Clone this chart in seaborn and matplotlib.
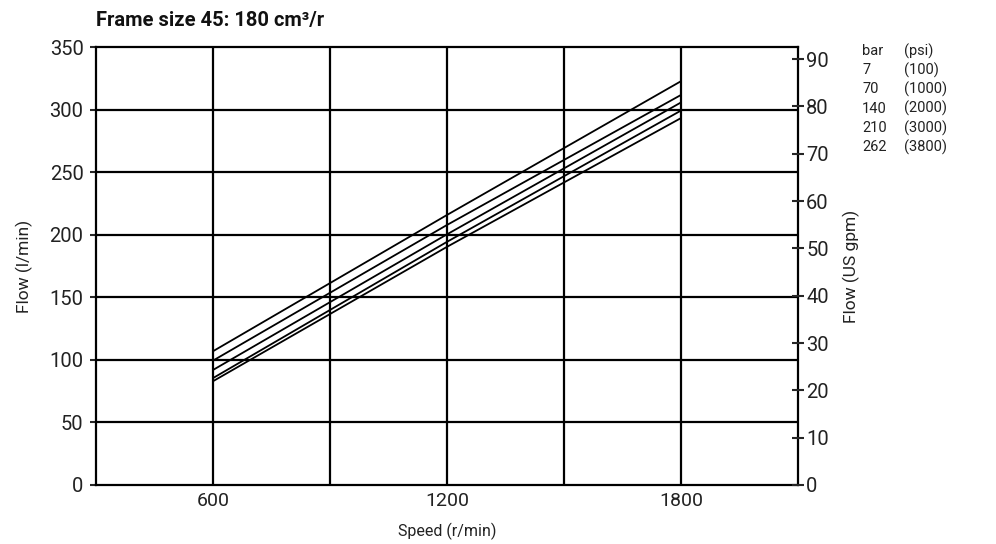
import pandas as pd
import seaborn as sns
import matplotlib.pyplot as plt

# data
speed = [600, 1200, 1800]
pressure_bar = ['7', '70', '140', '210', '262']
pressure_psi = ['(100)', '(1000)', '(2000)', '(3000)', '(3800)']
flow_7 = [107, 216, 323]
flow_70 = [99.5, 208, 312]
flow_140 = [92, 200.5, 306]
flow_210 = [85.5, 194.5, 299.5]
flow_262 = [83, 190.5, 293.5]

rows = []
for bar, flows in zip(pressure_bar, [flow_7, flow_70, flow_140, flow_210, flow_262]):
    for s, f in zip(speed, flows):
        rows.append({'speed': s, 'flow': f, 'bar': bar})
df = pd.DataFrame(rows)

sns.set_theme(style="white")
plt.rcParams['font.family'] = ['Roboto', 'DejaVu Sans']

fig = plt.figure(figsize=(9.96, 5.44), dpi=100)
ax = fig.add_axes([0.0964, 0.1085, 0.7047, 0.8042])

sns.lineplot(data=df, x='speed', y='flow', hue='bar', palette=['black'] * 5,
             linewidth=1.3, legend=False, ax=ax, zorder=3)

ax.set_xlim(300, 2100)
ax.set_ylim(0, 350)

# grid lines
for gx in [600, 900, 1200, 1500, 1800]:
    ax.axvline(gx, color='black', linewidth=1.6, zorder=2)
for gy in [50, 100, 150, 200, 250, 300]:
    ax.axhline(gy, color='black', linewidth=1.6, zorder=2)

ax.set_xticks([600, 1200, 1800])
ax.set_yticks(range(0, 351, 50))
ax.tick_params(axis='x', length=0, labelsize=14, pad=5, labelcolor='#222222')
ax.tick_params(axis='y', direction='out', length=4, width=1.5, labelsize=14.5, pad=5,
               labelcolor='#222222')
ax.set_xlabel('Speed (r/min)', fontsize=11.5, labelpad=9, color='#222222')
ax.set_ylabel('Flow (l/min)', fontsize=12.5, labelpad=12, color='#222222')

for side in ['top', 'left', 'right', 'bottom']:
    ax.spines[side].set_color('black')
    ax.spines[side].set_linewidth(1.6)

ax2 = ax.twinx()
ax2.set_ylim(0, 350 / 3.785)
ax2.set_yticks(range(0, 91, 10))
ax2.tick_params(axis='y', direction='inout', length=8, width=1.5, labelsize=14.5, pad=2,
                labelcolor='#222222')
ax2.set_ylabel('Flow (US gpm)', fontsize=12.5, labelpad=10, color='#222222')
for side in ['top', 'left', 'right', 'bottom']:
    ax2.spines[side].set_visible(False)

fig.text(0.0964, 0.962, 'Frame size 45: 180 cm³/r', fontsize=14.5, fontweight='bold',
         ha='left', va='center', color='#111111')

# pressure legend as text
fig.text(0.8655, 0.906, 'bar', fontsize=10.5, ha='left', va='center', color='#222222')
fig.text(0.9075, 0.906, '(psi)', fontsize=10.5, ha='left', va='center', color='#222222')
for i, (b, p) in enumerate(zip(pressure_bar, pressure_psi)):
    y = 0.871 - i * 0.0355
    fig.text(0.8655, y, b, fontsize=10.5, ha='left', va='center', color='#222222')
    fig.text(0.9075, y, p, fontsize=10.5, ha='left', va='center', color='#222222')

fig.savefig('out.png', dpi=100)
